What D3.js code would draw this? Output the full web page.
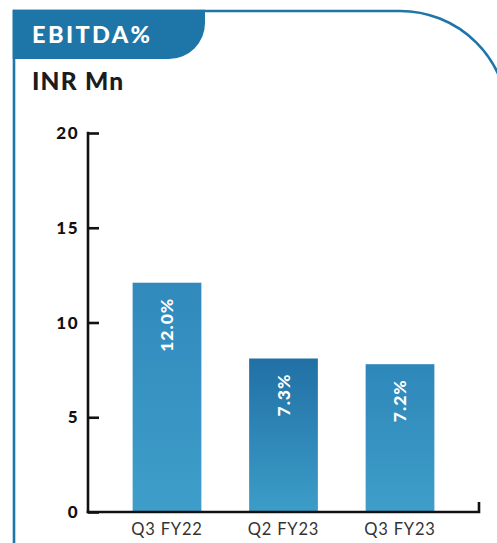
<!DOCTYPE html>
<html><head><meta charset="utf-8">
<script src="https://cdn.jsdelivr.net/npm/d3@7/dist/d3.min.js"></script>
<style>html,body{margin:0;padding:0;background:#fff;overflow:hidden}</style>
</head><body>
<script>
const categories = ["Q3 FY22", "Q2 FY23", "Q3 FY23"];
const barValues = [12.1, 8.1, 7.8];
const valueLabels = ["12.0%", "7.3%", "7.2%"];
const yTicks = [0, 5, 10, 15, 20];
const title = "EBITDA%";
const unitLabel = "INR Mn";
const gradTop = ["#3189bc", "#2170a5", "#2e87b9"];
const gradBottom = ["#3e9ec9", "#3c9dc8", "#3e9ec9"];

const W = 497, H = 543;
const svg = d3.select("body").append("svg").attr("width", W).attr("height", H);
const defs = svg.append("defs");
categories.forEach((c, i) => {
  const g = defs.append("linearGradient").attr("id", "g" + i)
    .attr("x1", 0).attr("y1", 0).attr("x2", 0).attr("y2", 1);
  g.append("stop").attr("offset", 0).attr("stop-color", gradTop[i]);
  g.append("stop").attr("offset", 1).attr("stop-color", gradBottom[i]);
});

const blue = "#1e75a8";
// card border
const r = 108;
svg.append("path")
  .attr("d", `M14,${H+5} L14,11 L${508 - r},11 A${r},${r} 0 0 1 508,${11 + r} L508,${H+5}`)
  .attr("fill", "none").attr("stroke", blue).attr("stroke-width", 2.6);
// tab
const tr = 36;
svg.append("path")
  .attr("d", `M12.7,9.7 L205,9.7 L205,${59 - tr} A${tr},${tr} 0 0 1 ${205 - tr},59 L12.7,59 Z`)
  .attr("fill", blue);
svg.append("text").attr("x", 32).attr("y", 43).text(title)
  .attr("fill", "#fff").attr("font-family", "Lato, sans-serif").attr("font-weight", 900)
  .attr("font-size", 23.5).attr("letter-spacing", 2.4);
svg.append("text").attr("x", 32).attr("y", 90).text(unitLabel)
  .attr("fill", "#1c1c1c").attr("font-family", "Lato, sans-serif").attr("font-weight", 900)
  .attr("font-size", 24.5).attr("letter-spacing", 1.2);

const x = d3.scaleBand().domain(categories).range([88, 479]).paddingInner(0.41).paddingOuter(0.383);
const y = d3.scaleLinear().domain([0, 20]).range([512, 133]);

// bars
svg.selectAll("rect.bar").data(categories).join("rect").attr("class", "bar")
  .attr("x", d => x(d)).attr("width", x.bandwidth())
  .attr("y", (d, i) => y(barValues[i])).attr("height", (d, i) => y(0) - y(barValues[i]))
  .attr("fill", (d, i) => `url(#g${i})`);

// value labels
svg.selectAll("text.val").data(categories).join("text").attr("class", "val")
  .attr("transform", (d, i) => `translate(${x(d) + x.bandwidth() / 2 + 6},${y(barValues[i]) + 15}) rotate(-90)`)
  .attr("text-anchor", "end")
  .attr("fill", "#fff").attr("font-family", "Lato, sans-serif").attr("font-weight", 900)
  .attr("font-size", 17.5).attr("letter-spacing", 1).text((d, i) => valueLabels[i]);

// y axis
const yAxis = svg.append("g").attr("transform", "translate(88,0)")
  .call(d3.axisRight(y).tickValues(yTicks).tickSize(11).tickFormat(""));
yAxis.select(".domain").remove();
yAxis.selectAll("line").attr("stroke", "#111").attr("stroke-width", 2.6);
svg.append("line").attr("x1", 88).attr("x2", 88).attr("y1", y(20) - 1.3).attr("y2", y(0) + 1.3)
  .attr("stroke", "#111").attr("stroke-width", 2.6);
svg.selectAll("text.yt").data(yTicks).join("text").attr("class", "yt")
  .attr("x", 79).attr("y", d => y(d) + 6).attr("text-anchor", "end")
  .attr("fill", "#111").attr("font-family", "Lato, sans-serif").attr("font-weight", 900)
  .attr("font-size", 17).attr("letter-spacing", 1.5).text(d => d);

// x axis
svg.append("path").attr("d", `M86.7,512 L479,512 L479,502`)
  .attr("fill", "none").attr("stroke", "#111").attr("stroke-width", 2.6);
const xAxis = svg.append("g").attr("transform", "translate(0,512)")
  .call(d3.axisBottom(x).tickSize(0).tickPadding(0));
xAxis.select(".domain").remove();
xAxis.selectAll("text").attr("y", 23).attr("dy", 0)
  .attr("fill", "#333").attr("font-family", "Lato, sans-serif").attr("font-size", 16.5)
  .attr("letter-spacing", 0.8);
</script>
</body></html>
